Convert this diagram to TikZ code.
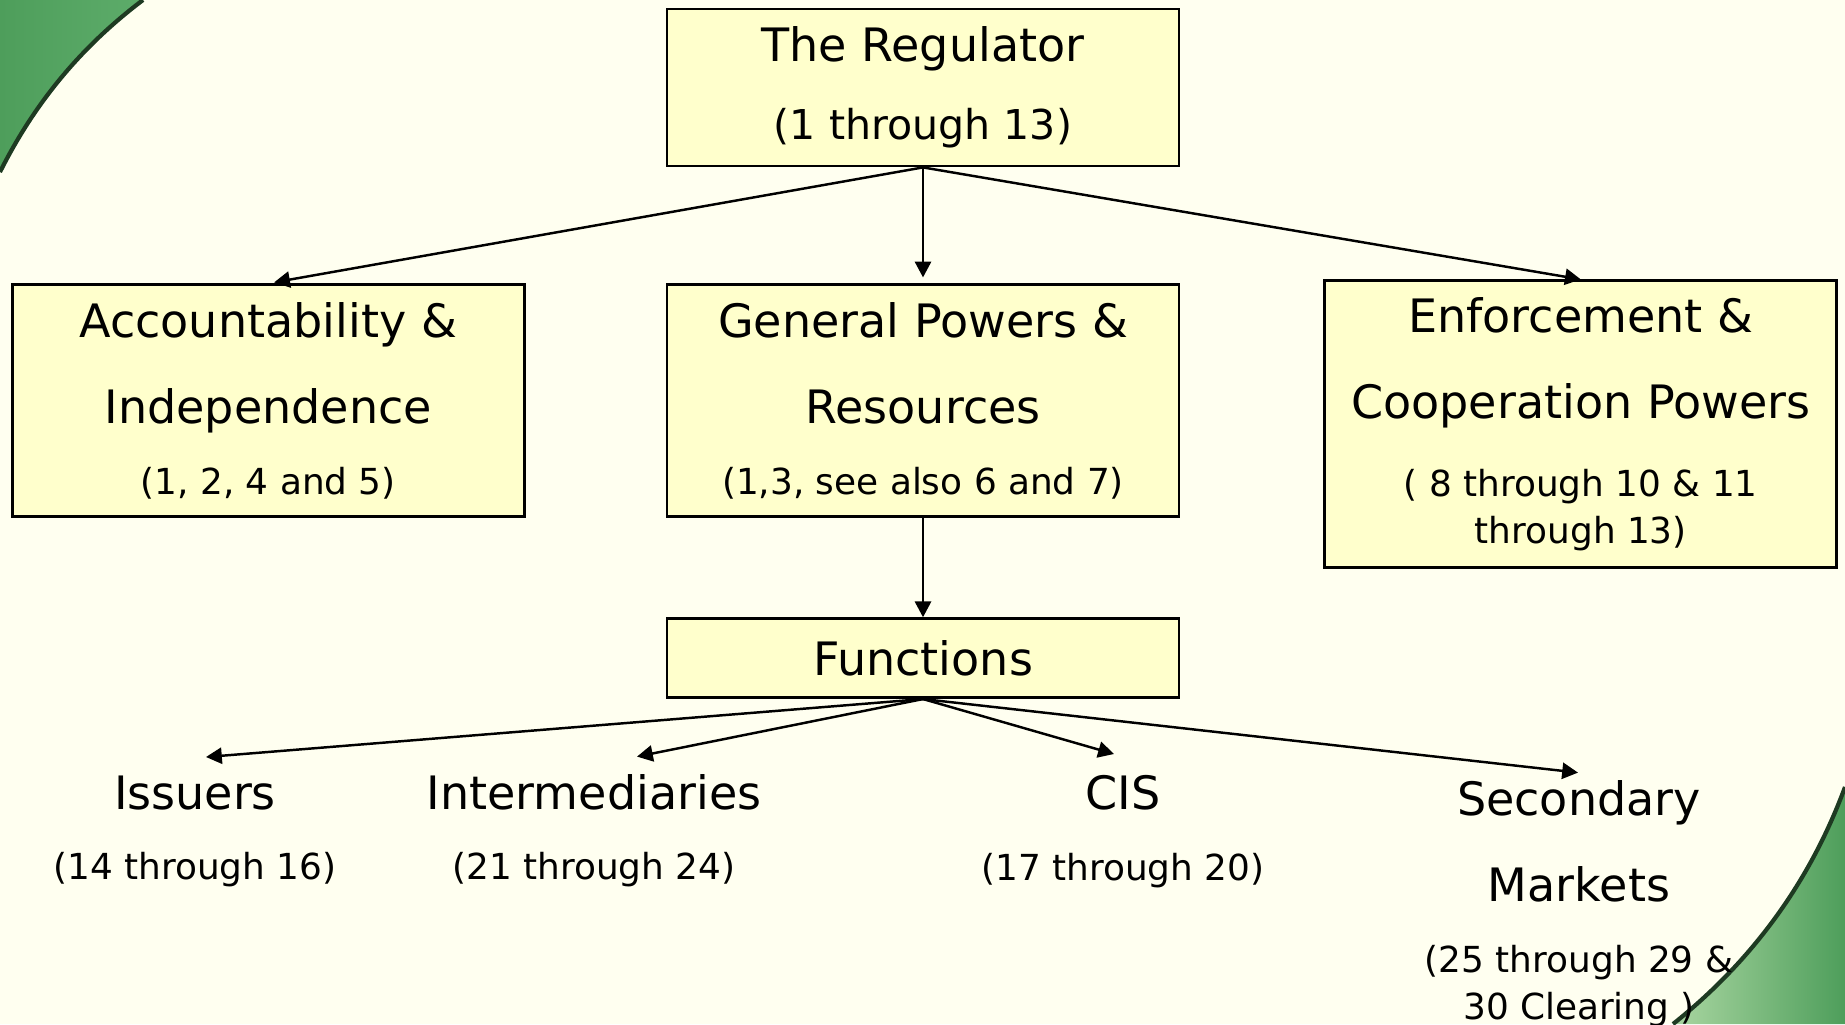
\documentclass[tikz,border=0pt]{standalone}
\usepackage{fontspec}
\setmainfont{DejaVu Sans}
\usepackage{xcolor}
\definecolor{regBack}{HTML}{FFFFF0}
\definecolor{regBox}{HTML}{FFFFCC}
\definecolor{regGreen}{HTML}{4E9E5B}
\definecolor{regGreenMid}{HTML}{5DAC6A}
\definecolor{regGreenLight}{HTML}{A9D6A1}
\definecolor{regEdge}{HTML}{1E3A22}
\usetikzlibrary{arrows.meta,positioning,calc}
\newcommand{\headfont}{\fontsize{13.1}{16}\selectfont}
\newcommand{\subfont}{\fontsize{10.2}{12}\selectfont}
\newcommand{\regsubfont}{\fontsize{11.7}{14}\selectfont}
\tikzset{
    box/.style={
        draw=black,
        fill=regBox,
        rectangle,
        line width=0.8pt,
        align=center,
        minimum width=5.12cm,
        inner sep=0pt,
        font=\headfont
    },
    free/.style={
        align=center,
        inner sep=0pt,
        anchor=north,
        font=\headfont
    },
    arrow/.style={
        -{Triangle[length=4.5pt,width=4.6pt]},
        line width=0.7pt,
        color=black
    },
    swoosh/.style={
        draw=regEdge,
        line width=1.2pt
    }
}

\begin{document}
\begin{tikzpicture}
    % Background and green corners
    \useasboundingbox (0,0) rectangle (18.45,-10.24);
    \fill[regBack] (0,0) rectangle (18.45,-10.24);
    \clip (0,0) rectangle (18.45,-10.24);
    \shade[left color=regGreen, right color=regGreenMid]
        (0,0) -- (1.43,0) .. controls (0.82,-0.46) and (0.35,-1.02) .. (0,-1.72) -- cycle;
    \draw[swoosh] (1.43,0) .. controls (0.82,-0.46) and (0.35,-1.02) .. (0,-1.72);
    \shade[left color=regGreenLight, right color=regGreen]
        (18.45,-7.87) .. controls (18.10,-8.82) and (17.52,-9.61) .. (16.73,-10.24)
        -- (18.45,-10.24) -- cycle;
    \draw[swoosh] (18.45,-7.87) .. controls (18.10,-8.82) and (17.52,-9.61) .. (16.73,-10.24);

    % Regulator and its three parts
    \node[box, minimum height=1.57cm] (reg) at (9.23,-0.875)
        {The Regulator\\[6.2pt]{\regsubfont (1 through 13)}};
    \node[box, minimum height=2.32cm, below=1.16cm of reg] (gen)
        {General Powers \&\\[8.5pt]Resources\\[4.3pt]{\subfont (1,3, see also 6 and 7)}};
    \node[box, minimum height=2.32cm, left=1.40cm of gen] (acc)
        {Accountability \&\\[8.5pt]Independence\\[4.3pt]{\subfont (1, 2, 4 and 5)}};
    \node[box, minimum height=2.87cm, anchor=north west] (enf)
        at ([xshift=1.43cm, yshift=0.04cm]gen.north east)
        {Enforcement \&\\[8.5pt]Cooperation Powers\\[6pt]{\subfont ( 8 through 10 \& 11}\\[-2.6pt]{\subfont through 13)}};

    % Functions
    \node[box, minimum height=0.79cm, below=0.99cm of gen] (func) {Functions};

    \node[free] (iss) at (1.95,-7.75) {Issuers\\[4pt]{\subfont (14 through 16)}};
    \node[free] (inter) at (5.94,-7.736) {Intermediaries\\[4pt]{\subfont (21 through 24)}};
    \node[free] (cis) at (11.23,-7.75) {CIS\\[4pt]{\subfont (17 through 20)}};
    \node[free] (sec) at (15.79,-7.796)
        {Secondary\\[8.5pt]Markets\\[4.3pt]{\subfont (25 through 29 \&}\\[-2.6pt]{\subfont 30 Clearing )}};

    % Arrows
    \draw[arrow, shorten >=0.06cm] (reg.south) -- (acc.north);
    \draw[arrow, shorten >=0.06cm] (reg.south) -- (gen.north);
    \draw[arrow] (reg.south) -- (enf.north);
    \draw[arrow] (gen.south) -- (func.north);
    \draw[arrow] (func.south) -- ([xshift=0.11cm, yshift=0.18cm]iss.north);
    \draw[arrow] (func.south) -- ([xshift=0.43cm, yshift=0.17cm]inter.north);
    \draw[arrow] (func.south) -- ([xshift=-0.09cm, yshift=0.21cm]cis.north);
    \draw[arrow] (func.south) -- ([xshift=-0.01cm, yshift=0.07cm]sec.north);
\end{tikzpicture}
\end{document}
